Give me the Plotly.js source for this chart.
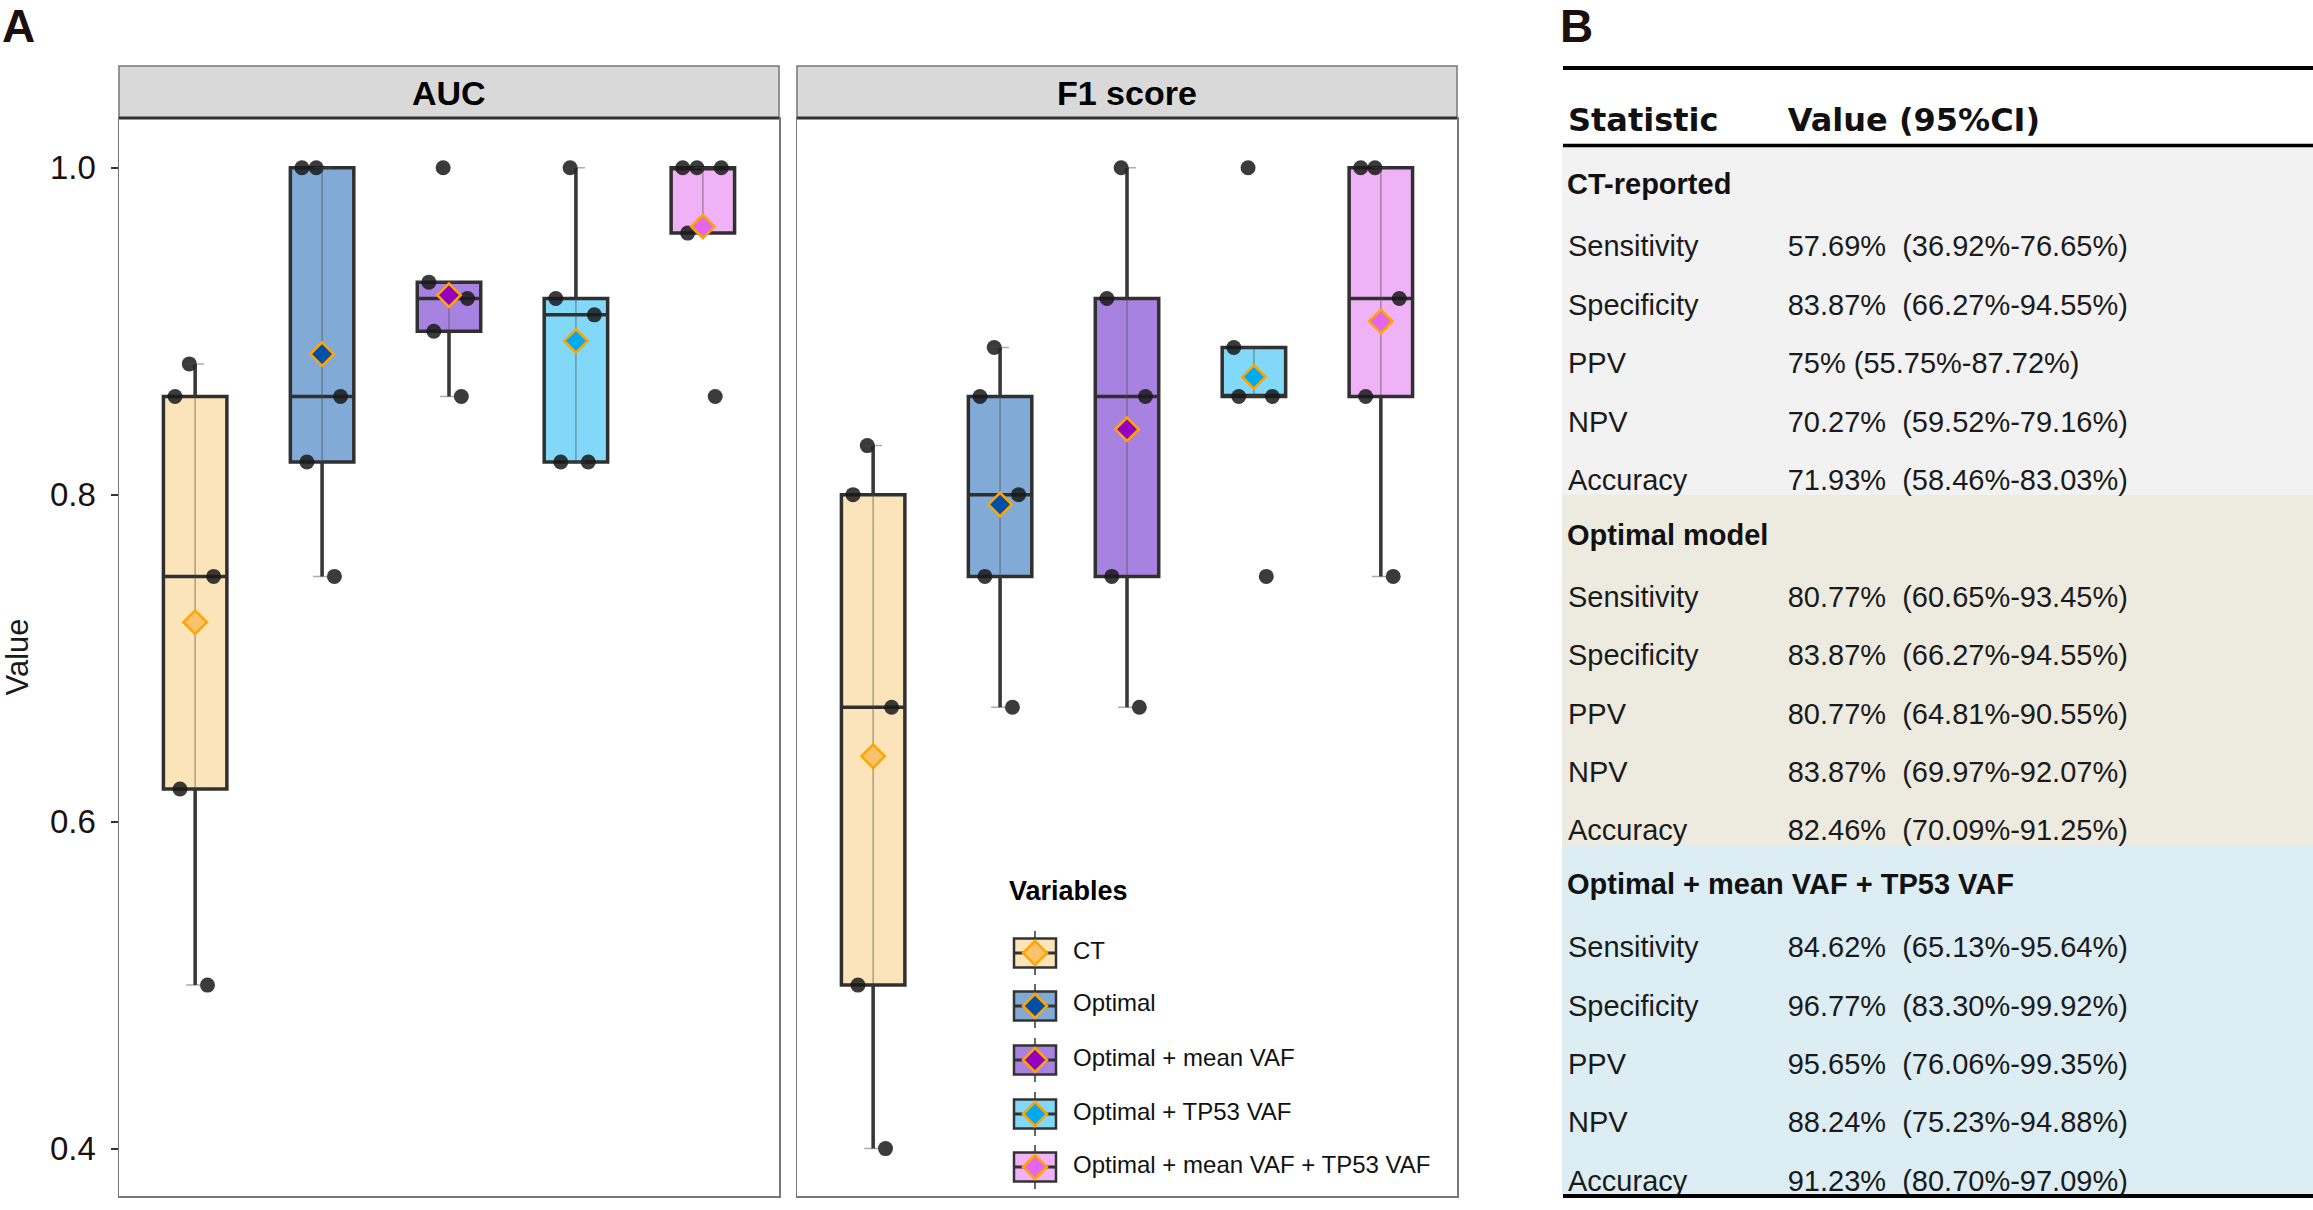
<!DOCTYPE html>
<html>
<head>
<meta charset="utf-8">
<script src="https://cdn.plot.ly/plotly-3.0.1.min.js"></script>
<style>html,body{margin:0;padding:0;background:#fff;}#chart{width:2313px;height:1210px;}</style>
</head>
<body>
<div id="chart"></div>
<script>
// ---------------- data ----------------
const variables = ["CT", "Optimal", "Optimal + mean VAF", "Optimal + TP53 VAF", "Optimal + mean VAF + TP53 VAF"];
const panels = ["AUC", "F1 score"];

const aucCT        = [0.88, 0.86, 0.75, 0.62, 0.50];
const aucOptimal   = [1.00, 1.00, 0.86, 0.82, 0.75];
const aucOptMean   = [1.00, 0.93, 0.92, 0.90, 0.86];
const aucOptTP53   = [1.00, 0.92, 0.91, 0.82, 0.82];
const aucOptAll    = [1.00, 1.00, 1.00, 0.96, 0.86];

const f1CT         = [0.83, 0.80, 0.67, 0.50, 0.40];
const f1Optimal    = [0.89, 0.86, 0.80, 0.75, 0.67];
const f1OptMean    = [1.00, 0.92, 0.86, 0.75, 0.67];
const f1OptTP53    = [1.00, 0.89, 0.86, 0.86, 0.75];
const f1OptAll     = [1.00, 1.00, 0.92, 0.86, 0.75];

const yTicks = [0.4, 0.6, 0.8, 1.0];

const tableHeader   = ["Statistic", "Value (95%CI)"];
const sectionNames  = ["CT-reported", "Optimal model", "Optimal + mean VAF + TP53 VAF"];
const statNames     = ["Sensitivity", "Specificity", "PPV", "NPV", "Accuracy"];
const ctReported    = ["57.69%  (36.92%-76.65%)", "83.87%  (66.27%-94.55%)", "75% (55.75%-87.72%)", "70.27%  (59.52%-79.16%)", "71.93%  (58.46%-83.03%)"];
const optimalModel  = ["80.77%  (60.65%-93.45%)", "83.87%  (66.27%-94.55%)", "80.77%  (64.81%-90.55%)", "83.87%  (69.97%-92.07%)", "82.46%  (70.09%-91.25%)"];
const optimalAll    = ["84.62%  (65.13%-95.64%)", "96.77%  (83.30%-99.92%)", "95.65%  (76.06%-99.35%)", "88.24%  (75.23%-94.88%)", "91.23%  (80.70%-97.09%)"];

// ---------------- styles ----------------
const boxFill   = ["#FBE4B9", "#82AAD6", "#A882E0", "#82D8F8", "#F0B2F6"];
const meanFill  = ["#F8C36C", "#0050A5", "#9400BE", "#00AAEE", "#E466EC"];
const sectionBg = ["#F2F2F2", "#EDEBE0", "#DCEDF4"];
const W = 2313, H = 1210;
const PX = x => x / W;
const PY = y => 1 - y / H;
const FONT = "Liberation Sans, Arial, sans-serif";
const BOLDFONT = "DejaVu Sans, Verdana, sans-serif";

const aucData = [aucCT, aucOptimal, aucOptMean, aucOptTP53, aucOptAll];
const f1Data  = [f1CT, f1Optimal, f1OptMean, f1OptTP53, f1OptAll];

// stats helpers (derived from data)
function quant(sorted, p) {
  const h = (sorted.length - 1) * p, lo = Math.floor(h), hi = Math.ceil(h);
  return sorted[lo] + (sorted[hi] - sorted[lo]) * (h - lo);
}
function whiskers(vals) {
  const s = vals.slice().sort((a, b) => a - b);
  const q1 = quant(s, 0.25), q3 = quant(s, 0.75), iqr = q3 - q1;
  const lo = s.filter(v => v >= q1 - 1.5 * iqr - 1e-9);
  const hi = s.filter(v => v <= q3 + 1.5 * iqr + 1e-9);
  return [Math.min(...lo, q1), Math.max(...hi, q3)];
}
const mean = v => v.reduce((a, b) => a + b, 0) / v.length;

const traces = [];
[aucData, f1Data].forEach((data, p) => {
  const xa = p === 0 ? "x" : "x2", ya = p === 0 ? "y" : "y2";
  data.forEach((vals, i) => {
    traces.push({
      type: "box", x: vals.map(() => variables[i]), y: vals, xaxis: xa, yaxis: ya,
      name: variables[i], showlegend: false, hoverinfo: "skip",
      boxpoints: "all", jitter: 0.75, pointpos: 0, width: 0.5, whiskerwidth: 0,
      quartilemethod: "inclusive",
      fillcolor: boxFill[i], line: { color: "#303030", width: 3.5 },
      marker: { color: "rgba(25,25,25,0.85)", size: 15, line: { width: 0 } }
    });
  });
  const wk = data.map(whiskers);
  traces.push({
    type: "scatter", mode: "markers", x: variables, y: wk.map(w => w[0]), xaxis: xa, yaxis: ya,
    showlegend: false, hoverinfo: "skip", marker: { size: 1, opacity: 0 },
    error_y: { type: "data", symmetric: false, array: wk.map(w => w[1] - w[0]), arrayminus: wk.map(() => 0),
               color: "rgba(70,70,70,0.45)", thickness: 1.5, width: 9 }
  });
  traces.push({
    type: "scatter", mode: "markers", x: variables, y: data.map(mean), xaxis: xa, yaxis: ya,
    showlegend: false, hoverinfo: "skip",
    marker: { symbol: "diamond", size: 18, color: meanFill, line: { color: "#FFA500", width: 2.5 } }
  });
});

// table (section titles are placed as annotations so they can span both columns)
const colStat = [], colVal = [];
sectionNames.forEach((s, k) => {
  colStat.push(""); colVal.push("");
  const vals = [ctReported, optimalModel, optimalAll][k];
  statNames.forEach((n, j) => {
    colStat.push(n); colVal.push(vals[j].replace("  ", "\u00a0\u00a0"));
  });
});
const headerTop = 93.2, rowH = 58.4, bodyTop = 168.2;
traces.push({
  type: "table", domain: { x: [PX(1560), 1], y: [0, PY(headerTop)] },
  columnwidth: [220, 533],
  header: { values: tableHeader.map(t => "<b>" + t + "</b>"), align: "left", height: bodyTop - headerTop,
            fill: { color: "rgba(0,0,0,0)" }, line: { width: 0 },
            font: { family: BOLDFONT, size: 32, color: "#111" } },
  cells: { values: [colStat, colVal], align: "left", height: rowH,
           fill: { color: "rgba(0,0,0,0)" }, line: { width: 0 },
           font: { family: FONT, size: 29, color: "#1a1a1a" } }
});

// ---------------- layout ----------------
const shapes = [], annotations = [];
const panelX = [[119, 779], [797, 1457]];
panelX.forEach((px, p) => {
  shapes.push({ type: "rect", xref: "paper", yref: "paper", x0: PX(px[0]), x1: PX(px[1]), y0: PY(118), y1: PY(66),
                fillcolor: "#D9D9D9", line: { color: "#777", width: 1.5 } });
  shapes.push({ type: "line", xref: "paper", yref: "paper", x0: PX(px[0]), x1: PX(px[1]), y0: PY(118), y1: PY(118),
                line: { color: "#333", width: 3 } });
  annotations.push({ xref: "paper", yref: "paper", x: PX((px[0] + px[1]) / 2), y: PY(93), text: "<b>" + panels[p] + "</b>",
                     showarrow: false, xanchor: "center", yanchor: "middle", font: { family: FONT, size: 34, color: "#000" } });
});
// table section backgrounds and rules
const secBounds = [145.5, 495, 846, 1196];
const secTextY = [184, 535, 884];
sectionNames.forEach((s, k) => {
  shapes.push({ type: "rect", xref: "paper", yref: "paper", layer: "below", x0: PX(1562), x1: 1,
                y0: PY(secBounds[k + 1]), y1: PY(secBounds[k]), fillcolor: sectionBg[k], line: { width: 0 } });
  annotations.push({ xref: "paper", yref: "paper", x: PX(1565), y: PY(secTextY[k]), text: "<b>" + s + "</b>", showarrow: false,
                     xanchor: "left", yanchor: "middle", font: { family: FONT, size: 29, color: "#111" } });
});
[[68, 4], [145.5, 3.5], [1196, 4]].forEach(r => shapes.push({ type: "line", xref: "paper", yref: "paper",
  x0: PX(1563), x1: 1, y0: PY(r[0]), y1: PY(r[0]), line: { color: "#000", width: r[1] } }));

// panel letters
annotations.push({ xref: "paper", yref: "paper", x: 0, y: PY(26), text: "<b>A</b>", showarrow: false, xanchor: "left", yanchor: "middle",
                   font: { family: FONT, size: 46, color: "#1a1010" } });
annotations.push({ xref: "paper", yref: "paper", x: PX(1558), y: PY(26), text: "<b>B</b>", showarrow: false, xanchor: "left", yanchor: "middle",
                   font: { family: FONT, size: 46, color: "#1a1010" } });

// legend (drawn manually)
annotations.push({ xref: "paper", yref: "paper", x: PX(1007), y: PY(891), text: "<b>Variables</b>", showarrow: false, xanchor: "left", yanchor: "middle",
                   font: { family: FONT, size: 27, color: "#000" } });
const legY = [953, 1006, 1060, 1114, 1167];
variables.forEach((v, i) => {
  const yc = legY[i];
  shapes.push({ type: "line", xref: "paper", yref: "paper", x0: PX(1035), x1: PX(1035), y0: PY(yc - 22), y1: PY(yc + 22), line: { color: "#333", width: 1.5 } });
  shapes.push({ type: "rect", xref: "paper", yref: "paper", x0: PX(1014), x1: PX(1056), y0: PY(yc + 14.5), y1: PY(yc - 14.5),
                fillcolor: boxFill[i], line: { color: "#333", width: 2.5 } });
  shapes.push({ type: "line", xref: "paper", yref: "paper", x0: PX(1014), x1: PX(1056), y0: PY(yc), y1: PY(yc), line: { color: "#333", width: 3 } });
  shapes.push({ type: "path", xref: "paper", yref: "paper",
                path: `M ${PX(1023)} ${PY(yc)} L ${PX(1035)} ${PY(yc - 12)} L ${PX(1047)} ${PY(yc)} L ${PX(1035)} ${PY(yc + 12)} Z`,
                fillcolor: meanFill[i], line: { color: "#FFA500", width: 2.5 } });
  annotations.push({ xref: "paper", yref: "paper", x: PX(1071), y: PY(yc - 3), text: v, showarrow: false, xanchor: "left", yanchor: "middle",
                     font: { family: FONT, size: 24, color: "#111" } });
});

const xaxisBase = { type: "category", categoryorder: "array", categoryarray: variables, range: [-0.6, 4.6],
  showticklabels: false, ticks: "", showgrid: false, zeroline: false, showline: true, mirror: true, linecolor: "#777", linewidth: 1.5, fixedrange: true };
const yaxisBase = { range: [0.371, 1.0304], tickvals: yTicks, tickformat: ".1f", showgrid: false, zeroline: false,
  showline: true, mirror: true, linecolor: "#777", linewidth: 1.5, domain: [PY(1196), PY(118)], fixedrange: true };

const layout = {
  width: W, height: H, margin: { l: 0, r: 0, t: 0, b: 0 }, paper_bgcolor: "#fff", plot_bgcolor: "#fff",
  showlegend: false, boxmode: "overlay",
  font: { family: FONT, color: "#1a1a1a" },
  xaxis: Object.assign({}, xaxisBase, { domain: [PX(119), PX(779)], anchor: "y" }),
  xaxis2: Object.assign({}, xaxisBase, { domain: [PX(797), PX(1457)], anchor: "y2" }),
  yaxis: Object.assign({}, yaxisBase, { anchor: "x", ticks: "outside", ticklen: 7, tickwidth: 2, tickcolor: "#333",
    ticklabelstandoff: 8, tickfont: { family: FONT, size: 33, color: "#1a1010" },
    title: { text: "Value", standoff: 16, font: { family: FONT, size: 31, color: "#1a1a1a" } } }),
  yaxis2: Object.assign({}, yaxisBase, { anchor: "x2", matches: "y", showticklabels: false, ticks: "" }),
  shapes: shapes, annotations: annotations
};

Plotly.newPlot("chart", traces, layout, { displayModeBar: false, staticPlot: true });
</script>
</body>
</html>
